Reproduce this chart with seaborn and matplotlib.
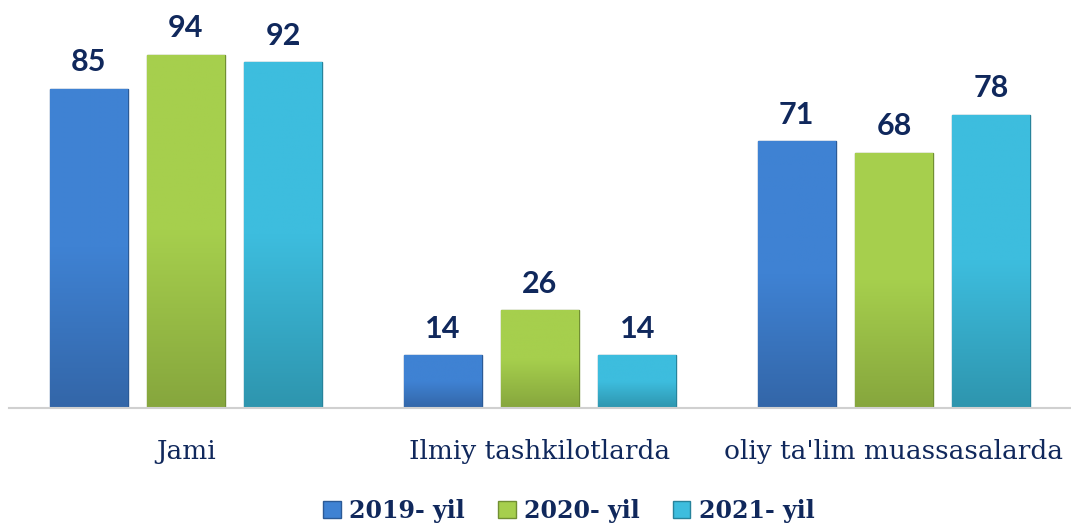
import matplotlib

matplotlib.use("Agg")

import matplotlib.pyplot as plt
import numpy as np
import pandas as pd
import seaborn as sns
from matplotlib.colors import LinearSegmentedColormap

categories = ["Jami", "Ilmiy tashkilotlarda", "oliy ta'lim muassasalarda"]
years = ["2019- yil", "2020- yil", "2021- yil"]
values_2019 = [85, 14, 71]
values_2020 = [94, 26, 68]
values_2021 = [92, 14, 78]
colors = ["#3a76c0", "#97bf46", "#36aecf"]
tops = ["#3f82d3", "#a6cf4d", "#3dbdde"]
bottoms = ["#3366a8", "#86a63d", "#2e95ae"]
edges = ["#2b5a96", "#718f33", "#27839b"]
navy = "#10285c"

df = pd.DataFrame({
    "category": categories * 3,
    "year": [y for y in years for _ in categories],
    "value": values_2019 + values_2020 + values_2021,
})

sns.set_theme(style="white")
fig = plt.figure(figsize=(10.71, 5.26), dpi=100)
ax = fig.add_axes([0.0084, 0.2243, 0.9916, 0.7757])

sns.barplot(data=df, x="category", y="value", hue="year", palette=colors,
            saturation=1, width=0.825, gap=0.2, ax=ax, legend=True)

grad = np.linspace(0, 1, 256).reshape(-1, 1)
for container, top, bot, ec in zip(ax.containers, tops, bottoms, edges):
    cmap = LinearSegmentedColormap.from_list("g", [top, top, bot])
    for bar in container:
        bar.set_edgecolor(ec)
        bar.set_linewidth(1.0)
        x0, w, h = bar.get_x(), bar.get_width(), bar.get_height()
        im = ax.imshow(grad, extent=[x0, x0 + w, 0, h], origin="upper",
                       cmap=cmap, aspect="auto", zorder=bar.get_zorder() + 0.1)
        im.set_clip_path(bar)
    ax.bar_label(container, padding=9, fontsize=22, fontweight="bold",
                 color=navy, family="Lato")

ax.set_xlim(-0.5, 2.5)
ax.set_ylim(0, 108.6)
ax.set_xlabel("")
ax.set_ylabel("")
ax.set_yticks([])
for side in ("top", "right", "left"):
    ax.spines[side].set_visible(False)
ax.spines["bottom"].set_color("#d0d0d0")
ax.spines["bottom"].set_linewidth(1.5)
ax.tick_params(axis="x", length=0, pad=22)
for lbl in ax.get_xticklabels():
    lbl.set_family("DejaVu Serif")
    lbl.set_fontsize(19)
    lbl.set_color(navy)

handles, labels = ax.get_legend_handles_labels()
for h, top, ec in zip(handles, tops, edges):
    h.set_facecolor(top)
    h.set_edgecolor(ec)
ax.legend(handles, labels, loc="lower center", bbox_to_anchor=(0.527, -0.333),
          ncol=3, frameon=False, handlelength=0.75, handleheight=0.75,
          handletextpad=0.35, columnspacing=1.4,
          prop={"family": "DejaVu Serif", "weight": "bold", "size": 17},
          labelcolor=navy)

fig.savefig("out.png", dpi=100, facecolor="white")
